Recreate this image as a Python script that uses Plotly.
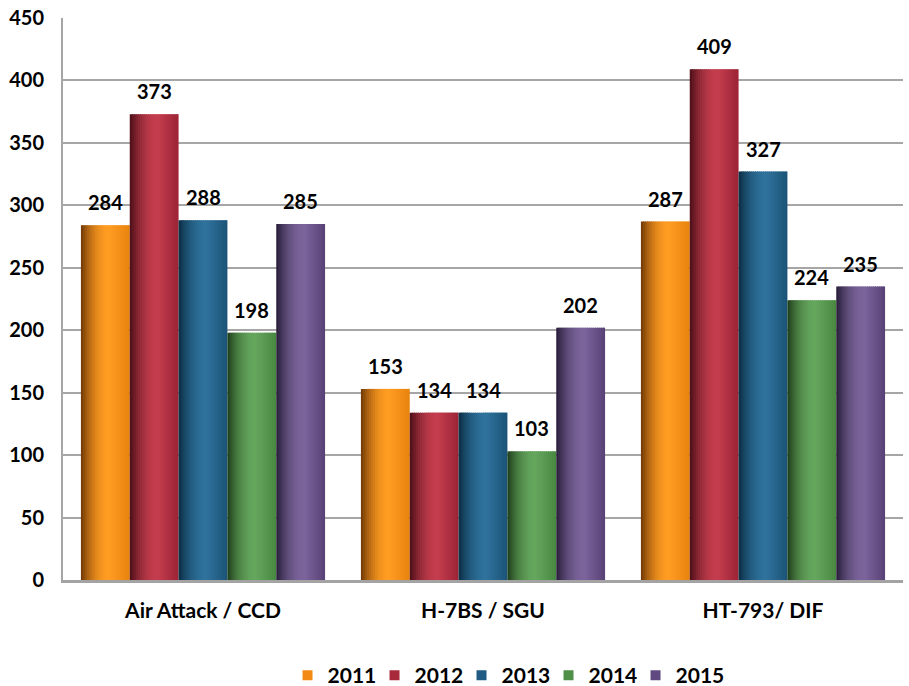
import plotly.graph_objects as go

categories = ["Air Attack / CCD", "H-7BS / SGU", "HT-793/ DIF"]
years = ["2011", "2012", "2013", "2014", "2015"]
v2011 = [284, 153, 287]
v2012 = [373, 134, 409]
v2013 = [288, 134, 327]
v2014 = [198, 103, 224]
v2015 = [285, 202, 235]
series = [v2011, v2012, v2013, v2014, v2015]
y_ticks = [0, 50, 100, 150, 200, 250, 300, 350, 400, 450]

# gradient stops (dark left, bright, right) and legend colour per series
shades = [
    ("#6e3704", "#ff9c22", "#e8830e", "#f28a14"),
    ("#4a0e17", "#c43d4e", "#9b2435", "#a8293a"),
    ("#0a2c42", "#2f729c", "#1b5376", "#1f5b82"),
    ("#1d3d1a", "#65a65d", "#488841", "#4f8f47"),
    ("#271c38", "#7b649b", "#574276", "#5e4a80"),
]

def hex2rgb(h):
    h = h.lstrip("#")
    return [int(h[i:i + 2], 16) for i in (0, 2, 4)]

def mix(a, b, t):
    a, b = hex2rgb(a), hex2rgb(b)
    return "rgb(%d,%d,%d)" % tuple(round(a[i] + (b[i] - a[i]) * t) for i in range(3))

def shade(stops, t):
    d, br, r = stops[:3]
    p = 0.58
    if t <= p:
        u = t / p
        u = 1 - (1 - u) ** 2
        return mix(d, br, u)
    return mix(br, r, (t - p) / (1 - p))

xs = list(range(len(categories)))
group_w = 0.872
bar_w = group_w / len(series)
K = 24
strip_w = bar_w / K

FONT = "Lato"
fig = go.Figure()
annotations = []
for s, vals in enumerate(series):
    left = -group_w / 2 + s * bar_w
    for k in range(K):
        t = (k + 0.5) / K
        w = strip_w * (1.6 if k < K - 1 else 1.0)
        fig.add_trace(go.Bar(
            x=xs, y=vals, width=w, offset=left + k * strip_w,
            marker=dict(color=shade(shades[s], t), line=dict(width=0)),
            showlegend=False, hoverinfo="skip"))
    for x, v in zip(xs, vals):
        annotations.append(dict(
            x=x + left + bar_w / 2, y=v, xref="x", yref="y", text=str(v),
            showarrow=False, yanchor="bottom", yshift=9,
            font=dict(family=FONT, size=20, color="black", weight="bold")))
for s, yr in enumerate(years):
    fig.add_trace(go.Scatter(
        x=[None], y=[None], mode="markers", name=yr,
        marker=dict(symbol="square", size=10, color=shades[s][3])))
# blank trailing legend slot so the last label is not clipped by the fixed entry width
fig.add_trace(go.Scatter(x=[None], y=[None], mode="markers", name=" ",
                         marker=dict(size=10, color="rgba(0,0,0,0)",
                                     line=dict(width=0, color="rgba(0,0,0,0)")),
                         hoverinfo="skip"))

fig.update_layout(
    width=909, height=686,
    margin=dict(l=63, r=6, t=18, b=106, autoexpand=False),
    paper_bgcolor="white", plot_bgcolor="white",
    barmode="overlay",
    annotations=annotations,
    font=dict(family=FONT, size=20, color="black", weight="bold"),
    legend=dict(orientation="h", x=0.578, xanchor="center", y=-0.17, yanchor="middle",
                font=dict(family=FONT, size=21, weight="bold"),
                itemwidth=30, entrywidth=42, traceorder="normal", tracegroupgap=0),
    xaxis=dict(range=[-0.5, 2.5], tickvals=xs, ticktext=categories,
               showgrid=False, zeroline=False, showline=True, automargin=False,
               linecolor="#a3a3a3", linewidth=3, ticks="",
               ticklabelstandoff=10,
               tickfont=dict(family=FONT, size=21, weight="bold")),
    yaxis=dict(range=[0, 450], tickvals=y_ticks, showgrid=True, automargin=False,
               gridcolor="#a6a6a6", gridwidth=2, zeroline=False,
               showline=True, linecolor="#a6a6a6", linewidth=2, ticks="",
               ticklabelstandoff=13,
               tickfont=dict(family=FONT, size=20, weight="bold")),
)
# remove the page's default body margin so the figure fills the window exactly
fig.write_html("out.html", config={"displayModeBar": False},
               post_script="document.body.style.margin='0';document.body.style.overflow='hidden';")
